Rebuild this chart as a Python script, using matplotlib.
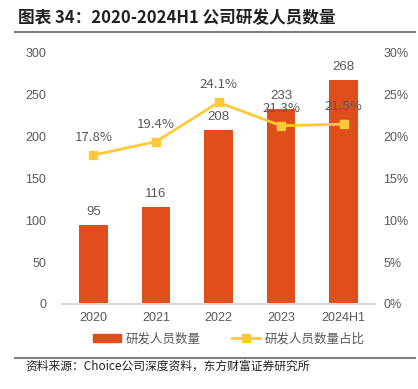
import matplotlib.pyplot as plt
import matplotlib
from matplotlib.lines import Line2D
import numpy as np

matplotlib.rcParams["axes.unicode_minus"] = False
plt.rcParams['font.family'] = ['Liberation Sans', 'Noto Sans CJK SC', 'DejaVu Sans']

years = ['2020', '2021', '2022', '2023', '2024H1']
staff = [95, 116, 208, 233, 268]
ratio = [17.8, 19.4, 24.1, 21.3, 21.5]

bar_color = '#E04E1B'
line_color = '#FFC839'
text_gray = '#595959'
cjk = ['Noto Sans CJK SC', 'DejaVu Sans']

fig = plt.figure(figsize=(4.18, 3.89), dpi=100)
ax1 = fig.add_axes([62 / 418, 1 - 304 / 389, 313 / 418, 251 / 389])
ax2 = ax1.twinx()

x = np.arange(len(years))
ax1.bar(x, staff, width=0.46, color=bar_color, zorder=2)
ax1.set_xlim(-0.5, len(years) - 0.5)
ax1.set_ylim(0, 300)
ax1.set_yticks(range(0, 301, 50))
ax1.set_xticks(x, years)
for xi, v in zip(x, staff):
    ax1.text(xi, v + 8, str(v), ha='center', va='bottom', fontsize=9.5, color=text_gray)

ax2.plot(x, ratio, color=line_color, lw=2, marker='s', ms=6, zorder=3)
ax2.set_ylim(0, 30)
ax2.set_yticks(range(0, 31, 5))
ax2.set_yticklabels([f'{v}%' for v in range(0, 31, 5)])
for xi, v in zip(x, ratio):
    ax2.text(xi, v + 1.3, f'{v}%', ha='center', va='bottom', fontsize=9.5,
             color=text_gray, family=cjk)

for ax in (ax1, ax2):
    for s in ax.spines.values():
        s.set_visible(False)
    ax.tick_params(length=0, labelsize=9, labelcolor=text_gray)
ax1.spines['bottom'].set_visible(True)
ax1.spines['bottom'].set_color('#D9D9D9')
ax1.spines['bottom'].set_linewidth(1.5)
ax1.tick_params(axis='y', pad=11.5)
ax1.tick_params(axis='x', pad=6)
ax2.tick_params(axis='y', pad=6)

handles = [plt.Rectangle((0, 0), 1, 1, color=bar_color),
           Line2D([0], [0], color=line_color, lw=2, marker='s', ms=6)]
fig.legend(handles, ['研发人员数量', '研发人员数量占比'], loc='center',
           bbox_to_anchor=(229 / 418, 1 - 339 / 389), ncol=2, frameon=False,
           prop={'family': cjk, 'size': 9}, labelcolor=text_gray,
           handlelength=2.2, columnspacing=2.5, handleheight=0.6, handletextpad=0.4)

fig.text(18 / 418, 1 - 18 / 389, '图表 34：2020-2024H1 公司研发人员数量', fontsize=12,
         fontweight='bold', family=cjk, va='center', color='#222222')
fig.add_artist(Line2D([15 / 418, 415 / 418], [1 - 32 / 389] * 2, color='#7F7F7F', lw=1.5))
fig.add_artist(Line2D([15 / 418, 415 / 418], [1 - 358 / 389] * 2, color='#7F7F7F', lw=1.5))
fig.text(25 / 418, 1 - 366 / 389, '资料来源：Choice公司深度资料，东方财富证券研究所', fontsize=8.5,
         family=cjk, va='center', color='#222222')

fig.savefig('out.png', dpi=100)
